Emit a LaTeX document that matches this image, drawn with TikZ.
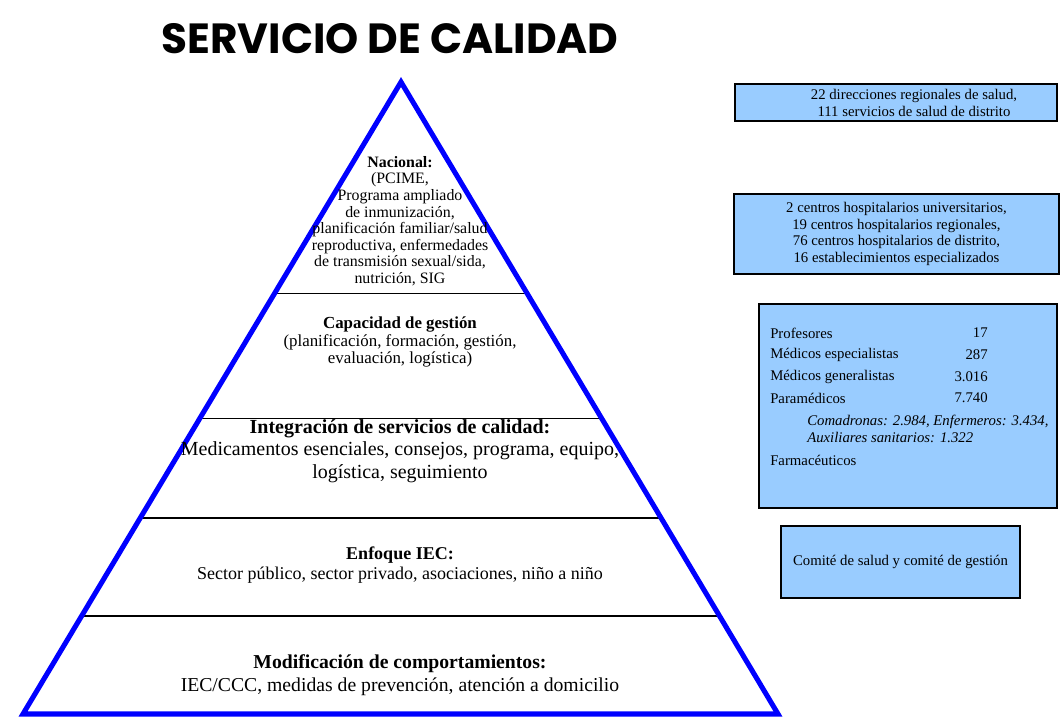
\documentclass[tikz,border=0pt]{standalone}
\usepackage{fontspec}
\setmainfont{Liberation Serif}
\newfontfamily\titlefont{Poppins}
\usetikzlibrary{calc}
\definecolor{boxblue}{HTML}{99CCFF}
\tikzset{
  infobox/.style={draw=black, line width=1pt, fill=boxblue, inner sep=0pt},
  level/.style={align=center, inner sep=0pt},
  boxtext/.style={inner sep=0pt, font=\fontsize{10.5}{12}\selectfont},
}

\begin{document}
\begin{tikzpicture}[x=0.025cm, y=-0.025cm]
\useasboundingbox (0,0) rectangle (1060,719);

\node[at={(390,39)}, font=\titlefont\bfseries\fontsize{30}{30}\selectfont] (title) {SERVICIO DE CALIDAD};

% pyramid
\coordinate (apex) at (401,82);
\coordinate (bl) at (23,714);
\coordinate (br) at (778,714);
\foreach \t in {0.335,0.532,0.690,0.845}
  \draw[line width=1pt] ($(apex)!\t!(bl)$) -- ($(apex)!\t!(br)$);
\draw[blue, line width=3.6pt] (apex) -- (br) -- (bl) -- cycle;

\node[level, at={(400,221)}, font=\fontsize{11.3}{11.8}\selectfont] (nacional) {\textbf{Nacional:}\\(PCIME,\\Programa ampliado\\de inmunización,\\planificación familiar/salud\\reproductiva, enfermedades\\de transmisión sexual/sida,\\nutrición, SIG};
\node[level, at={(400,342)}, font=\fontsize{12}{12.5}\selectfont] (capacidad) {\textbf{Capacidad de gestión}\\(planificación, formación, gestión,\\evaluación, logística)};
\node[level, at={(400,451)}, font=\fontsize{14.2}{16}\selectfont] (integracion) {\textbf{Integración de servicios de calidad:}\\Medicamentos esenciales, consejos, programa, equipo,\\logística, seguimiento};
\node[level, at={(400,565)}, font=\fontsize{12.8}{14.5}\selectfont] (enfoque) {\textbf{Enfoque IEC:}\\Sector público, sector privado, asociaciones, niño a niño};
\node[level, at={(400,675)}, font=\fontsize{14}{16.5}\selectfont] (modificacion) {\textbf{Modificación de comportamientos:}\\IEC/CCC, medidas de prevención, atención a domicilio};

% boxes on the right
\node[infobox, minimum width=8.05cm, minimum height=0.925cm, at={(896,102.5)}] (direcciones) {};
\node[boxtext, align=center, at={(914,103)}] (direcciones-txt) {22 direcciones regionales de salud,\\111 servicios de salud de distrito};

\node[infobox, minimum width=8.125cm, minimum height=2cm, at={(896.5,234)}] (hospitales) {};
\node[boxtext, align=center, at=(hospitales)] (hospitales-txt) {2 centros hospitalarios universitarios,\\19 centros hospitalarios regionales,\\76 centros hospitalarios de distrito,\\16 establecimientos especializados};

\node[infobox, minimum width=7.45cm, minimum height=5.1cm, at={(908,406)}] (personal) {};
\foreach \lbl/\num/\y in {Profesores/17/333, Médicos especialistas/287/355, Médicos generalistas/3.016/377, Paramédicos/7.740/398}{
  \node[boxtext, anchor=west, at={(770,\y)}] (staff-\y) {\lbl};
  \node[boxtext, anchor=east, at={(988,\y)}] (count-\y) {\num};
}
\node[boxtext, anchor=west, align=left, at={(807,429)}, font=\itshape\fontsize{10.5}{12}\selectfont] (paramedicos) {Comadronas: 2.984, Enfermeros: 3.434,\\Auxiliares sanitarios: 1.322};
\node[boxtext, anchor=west, at={(770,460)}] (farmaceuticos) {Farmacéuticos};

\node[infobox, minimum width=5.975cm, minimum height=1.8cm, at={(900.5,562)}] (comite) {};
\node[boxtext, at=(comite)] (comite-txt) {Comité de salud y comité de gestión};
\end{tikzpicture}
\end{document}
